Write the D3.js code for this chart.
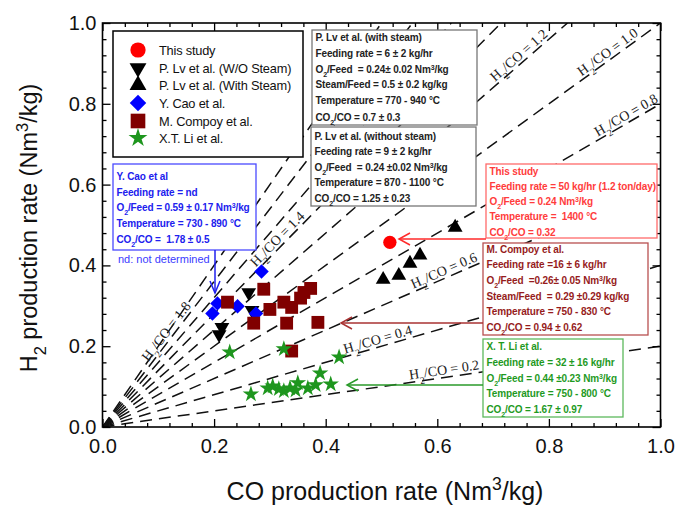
<!DOCTYPE html>
<html><head><meta charset="utf-8">
<script src="https://cdn.jsdelivr.net/npm/d3@7"></script>
<style>body{margin:0;background:#fff} svg{display:block} text{white-space:pre}</style>
</head><body>
<svg id="chart" width="681" height="506"></svg>
<script>
// ---------- DATA ----------
const thisStudy   = [[0.515, 0.457]];
const lvWithout   = [[0.262, 0.333], [0.268, 0.289], [0.214, 0.247], [0.209, 0.229]];
const lvWith      = [[0.503, 0.365], [0.531, 0.375], [0.551, 0.405], [0.569, 0.425], [0.632, 0.494]];
const caoData     = [[0.285, 0.385], [0.206, 0.306], [0.197, 0.281], [0.242, 0.299], [0.275, 0.281]];
const compoyData  = [[0.224, 0.309], [0.289, 0.341], [0.300, 0.291], [0.271, 0.257], [0.325, 0.309],
                     [0.339, 0.296], [0.330, 0.257], [0.355, 0.319], [0.361, 0.333], [0.373, 0.343],
                     [0.386, 0.259], [0.339, 0.188]];
const liData      = [[0.228, 0.185], [0.325, 0.193], [0.424, 0.173], [0.266, 0.081], [0.296, 0.096],
                     [0.305, 0.101], [0.316, 0.094], [0.325, 0.089], [0.336, 0.096], [0.346, 0.091],
                     [0.350, 0.109], [0.368, 0.096], [0.382, 0.104], [0.390, 0.133], [0.409, 0.106]];
const ratios      = [0.2, 0.4, 0.6, 0.8, 1.0, 1.2, 1.4, 1.6, 1.8, 2.0];
const labelRatios = [0.2, 0.4, 0.6, 0.8, 1.0, 1.2, 1.4, 1.8];
const labelAtX    = [0.614, 0.497, 0.617, 0.945, 0.913, 0.755, 0.323, 0.125];
const majorTicks  = [0, 0.2, 0.4, 0.6, 0.8, 1.0];
const minorTicks  = d3.range(0, 1.0001, 0.04).filter(v => Math.abs(v * 5 - Math.round(v * 5)) > 1e-6);
const legendNames = ["This study", "P. Lv et al. (W/O Steam)", "P. Lv et al. (With Steam)",
                     "Y. Cao et al.", "M. Compoy et al.", "X.T. Li et al."];

// ---------- LAYOUT ----------
const svg = d3.select("#chart");
const L = 102.5, R = 660.5, T = 23, B = 427;
const x = d3.scaleLinear([0, 1], [L, R]);
const y = d3.scaleLinear([0, 1], [B, T]);
const FONT = "Arial, 'Liberation Sans', sans-serif";

function rich(t, str) {
  str.split(/(_\{[^}]*\}|\^\{[^}]*\})/).forEach(p => {
    if (!p) return;
    if (p.startsWith("_{")) t.append("tspan").attr("baseline-shift", "sub").attr("font-size", "70%").text(p.slice(2, -1));
    else if (p.startsWith("^{")) t.append("tspan").attr("baseline-shift", "super").attr("font-size", "70%").text(p.slice(2, -1));
    else t.append("tspan").text(p);
  });
  return t;
}

// clip
svg.append("defs").append("clipPath").attr("id", "clip")
  .append("rect").attr("x", L).attr("y", T).attr("width", R - L).attr("height", B - T);

// ratio lines
const lineG = svg.append("g").attr("clip-path", "url(#clip)");
ratios.forEach(r => {
  const xe = Math.min(1, 1 / r);
  lineG.append("line")
    .attr("x1", x(0)).attr("y1", y(0)).attr("x2", x(xe)).attr("y2", y(r * xe))
    .attr("stroke", "#111").attr("stroke-width", 1.5).attr("stroke-dasharray", "12,7");
});

// ratio labels
labelRatios.forEach((r, i) => {
  const px = x(labelAtX[i]), py = y(r * labelAtX[i]);
  const ang = Math.atan2(y(0) - y(r), x(1) - x(0)) * 180 / Math.PI;
  const t = svg.append("text")
    .attr("transform", `translate(${px},${py}) rotate(${-ang}) translate(0,-3)`)
    .attr("text-anchor", "middle")
    .attr("font-family", "'Times New Roman', 'Liberation Serif', serif")
    .attr("font-size", 14).attr("fill", "#222");
  rich(t, `H_{2}/CO = ${r.toFixed(1)}`);
});

// axes
function axisSet(gen, tr, size, vals, labels, pad) {
  const a = gen.tickValues(vals).tickSizeInner(-size).tickSizeOuter(0).tickPadding(pad)
    .tickFormat(labels ? d3.format(".1f") : () => "");
  const g = svg.append("g").attr("transform", tr).call(a);
  g.select(".domain").remove();
  g.selectAll("line").attr("stroke", "#000").attr("stroke-width", 1.3);
  g.selectAll("text").attr("font-family", FONT).attr("font-size", 20).attr("fill", "#111");
  return g;
}
axisSet(d3.axisBottom(x), `translate(0,${B})`, 8, majorTicks, true, 12);
axisSet(d3.axisBottom(x), `translate(0,${B})`, 4, minorTicks, false, 0);
axisSet(d3.axisTop(x), `translate(0,${T})`, 8, majorTicks, false, 0);
axisSet(d3.axisTop(x), `translate(0,${T})`, 4, minorTicks, false, 0);
axisSet(d3.axisLeft(y), `translate(${L},0)`, 8, majorTicks, true, 6);
axisSet(d3.axisLeft(y), `translate(${L},0)`, 4, minorTicks, false, 0);
axisSet(d3.axisRight(y), `translate(${R},0)`, 8, majorTicks, false, 0);
axisSet(d3.axisRight(y), `translate(${R},0)`, 4, minorTicks, false, 0);
svg.append("rect").attr("x", L).attr("y", T).attr("width", R - L).attr("height", B - T)
  .attr("fill", "none").attr("stroke", "#000").attr("stroke-width", 1.6);

// axis titles
rich(svg.append("text").attr("x", 385).attr("y", 500).attr("text-anchor", "middle")
  .attr("font-family", FONT).attr("font-size", 25).attr("fill", "#111"), "CO production rate (Nm^{3}/kg)");
rich(svg.append("text").attr("transform", "translate(37,228) rotate(-90)").attr("text-anchor", "middle")
  .attr("font-family", FONT).attr("font-size", 23.5).attr("fill", "#111"), "H_{2} production rate (Nm^{3}/kg)");

// ---------- annotation boxes ----------
const boxes = [
  { x: 312, y: 30, w: 165, h: 95, text: "#222", border: "#777", ys: [37, 53, 69, 84, 100, 117],
    lines: ["P. Lv et al. (with steam)", "Feeding rate = 6 ± 2 kg/hr", "O_{2}/Feed  = 0.24± 0.02 Nm^{3}/kg",
            "Steam/Feed = 0.5 ± 0.2 kg/kg", "Temperature = 770 - 940 °C", "CO_{2}/CO = 0.7 ± 0.3"] },
  { x: 311, y: 127, w: 165, h: 79, text: "#222", border: "#777", ys: [136, 151, 167, 182, 198],
    lines: ["P. Lv et al. (without steam)", "Feeding rate = 9 ± 2 kg/hr", "O_{2}/Feed  = 0.24 ±0.02 Nm^{3}/kg",
            "Temperature = 870 - 1100 °C", "CO_{2}/CO = 1.25 ± 0.23"] },
  { x: 113, y: 164, w: 143, h: 86, text: "#2020ee", border: "#4a4aff", ys: [176, 192, 207, 223, 239],
    lines: ["Y. Cao et al", "Feeding rate = nd", "O_{2}/Feed = 0.59 ± 0.17 Nm^{3}/kg",
            "Temperature = 730 - 890 °C", "CO_{2}/CO =  1.78 ± 0.5"] },
  { x: 486, y: 164, w: 171, h: 74, text: "#ff3c3c", border: "#ff6a6a", ys: [171, 186, 201, 216, 232],
    lines: ["This study", "Feeding rate = 50 kg/hr (1.2 ton/day)", "O_{2}/Feed = 0.24 Nm^{3}/kg",
            "Temperature =  1400 °C", "CO_{2}/CO = 0.32"] },
  { x: 483, y: 243, w: 165, h: 92, text: "#961c1c", border: "#b85050", ys: [249, 264, 280, 296, 311, 327],
    lines: ["M. Compoy et al.", "Feeding rate =16 ± 6 kg/hr", "O_{2}/Feed  =0.26± 0.05 Nm^{3}/kg",
            "Steam/Feed  = 0.29 ±0.29 kg/kg", "Temperature = 750 - 830 °C", "CO_{2}/CO = 0.94 ± 0.62"] },
  { x: 483, y: 339, w: 140, h: 78, text: "#1f9a1f", border: "#5cb85c", ys: [346, 362, 378, 393, 409],
    lines: ["X. T. Li et al.", "Feeding rate = 32 ± 16 kg/hr", "O_{2}/Feed = 0.44 ±0.23 Nm^{3}/kg",
            "Temperature = 750 - 800 °C", "CO_{2}/CO = 1.67 ± 0.97"] }
];
boxes.forEach(b => {
  svg.append("rect").attr("x", b.x).attr("y", b.y).attr("width", b.w).attr("height", b.h)
    .attr("fill", "#fff").attr("stroke", b.border).attr("stroke-width", 1.3);
  b.lines.forEach((s, i) => {
    rich(svg.append("text").attr("x", b.x + 3.5).attr("y", b.ys[i] + 3.6)
      .attr("font-family", FONT).attr("font-weight", "bold").attr("font-size", 10)
      .attr("letter-spacing", -0.12).attr("fill", b.text), s);
  });
});
svg.append("text").attr("x", 118).attr("y", 263).attr("font-family", FONT).attr("font-size", 11)
  .attr("fill", "#3a3aff").text("nd: not determined");

// arrows
const arrows = [
  { x1: 486, y1: 239, x2: 399, y2: 239, c: "#ff2a2a", dir: "left" },
  { x1: 483, y1: 323, x2: 341, y2: 323, c: "#a83232", dir: "left" },
  { x1: 483, y1: 385, x2: 347, y2: 385, c: "#2a9a2a", dir: "left" },
  { x1: 215, y1: 250, x2: 215, y2: 293, c: "#2020ee", dir: "down" }
];
arrows.forEach(a => {
  svg.append("line").attr("x1", a.x1).attr("y1", a.y1).attr("x2", a.x2).attr("y2", a.y2)
    .attr("stroke", a.c).attr("stroke-width", 1.5);
  const d = a.dir === "left"
    ? `M${a.x2 + 11},${a.y2 - 6}L${a.x2},${a.y2}L${a.x2 + 11},${a.y2 + 6}`
    : `M${a.x2 - 5},${a.y2 - 12}L${a.x2},${a.y2}L${a.x2 + 5},${a.y2 - 12}`;
  svg.append("path").attr("d", d).attr("fill", "none").attr("stroke", a.c).attr("stroke-width", 1.5);
});

// ---------- markers ----------
const styles = [
  { data: thisStudy,  type: d3.symbolCircle,   size: 140, rot: 0,   c: "#ff0000" },
  { data: lvWithout,  type: d3.symbolTriangle, size: 95,  rot: 180, c: "#000000" },
  { data: lvWith,     type: d3.symbolTriangle, size: 95,  rot: 0,   c: "#000000" },
  { data: caoData,    type: d3.symbolSquare,   size: 105, rot: 45,  c: "#0000ff" },
  { data: compoyData, type: d3.symbolSquare,   size: 165, rot: 0,   c: "#800000" },
  { data: liData,     type: d3.symbolStar,     size: 85,  rot: 0,   c: "#1e961e" }
];
styles.forEach(s => {
  svg.append("g").selectAll("path").data(s.data).join("path")
    .attr("d", d3.symbol().type(s.type).size(s.size))
    .attr("transform", d => `translate(${x(d[0])},${y(d[1])}) rotate(${s.rot})`)
    .attr("fill", s.c);
});

// ---------- legend ----------
svg.append("rect").attr("x", 113).attr("y", 31).attr("width", 190).attr("height", 126)
  .attr("fill", "#fff").attr("stroke", "#000").attr("stroke-width", 1.5);
const legY = [50, 68, 85, 103, 121, 138];
styles.forEach((s, i) => {
  svg.append("path").attr("d", d3.symbol().type(s.type).size(s.size * 1.3))
    .attr("transform", `translate(138,${legY[i]}) rotate(${s.rot})`).attr("fill", s.c);
  svg.append("text").attr("x", 159).attr("y", legY[i] + 4.5).attr("font-family", FONT)
    .attr("font-size", 12.8).attr("letter-spacing", -0.2).attr("fill", "#111").text(legendNames[i]);
});
</script>
</body></html>
